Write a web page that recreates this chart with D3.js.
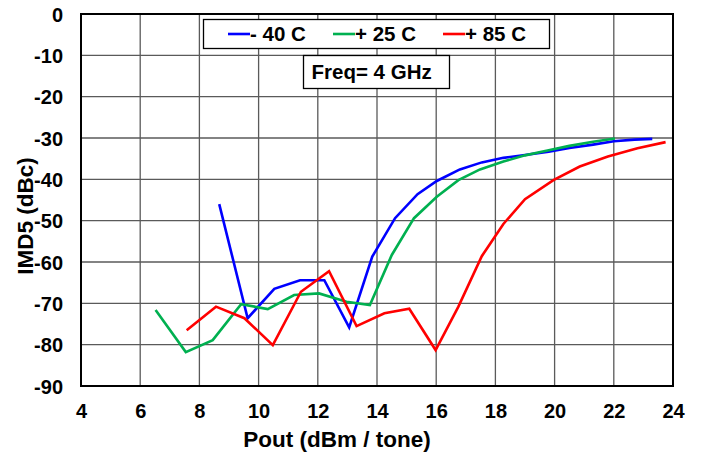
<!DOCTYPE html>
<html>
<head>
<meta charset="utf-8">
<script src="https://cdn.jsdelivr.net/npm/d3@7"></script>
<style>
  html, body { margin: 0; padding: 0; background: #fff; }
  svg text { font-family: "Liberation Sans", Arial, sans-serif; font-weight: bold; fill: #000; }
</style>
</head>
<body>
<svg id="chart" width="701" height="456"></svg>
<script>
// IMD5 vs output power per tone, three temperatures
const xTicks = [4, 6, 8, 10, 12, 14, 16, 18, 20, 22, 24];
const yTicks = [0, -10, -20, -30, -40, -50, -60, -70, -80, -90];

const coldPout = [8.67, 9.63, 10.53, 11.40, 12.22, 13.06, 13.84, 14.61, 15.37, 16.02, 16.80, 17.54, 18.27, 19.0, 19.8, 20.5, 21.3, 22.0, 22.7, 23.3];
const coldImd5 = [-46.0, -73.6, -66.5, -64.4, -64.4, -75.8, -58.7, -49.4, -43.6, -40.4, -37.6, -35.9, -34.8, -34.1, -33.3, -32.4, -31.6, -30.8, -30.4, -30.2];

const roomPout = [6.52, 7.54, 8.45, 9.41, 10.31, 11.2, 12.04, 12.97, 13.76, 14.5, 15.25, 16.02, 16.75, 17.48, 18.27, 19.0, 19.76, 20.5, 21.3, 22.04];
const roomImd5 = [-71.6, -81.8, -78.9, -70.2, -71.4, -68.0, -67.6, -69.6, -70.4, -58.3, -49.4, -44.2, -40.2, -37.6, -35.7, -34.2, -33.0, -31.9, -30.9, -30.1];

const hotPout = [7.57, 8.56, 9.52, 10.48, 11.43, 12.38, 13.31, 14.25, 15.09, 15.98, 16.75, 17.54, 18.27, 19.0, 19.96, 20.85, 21.8, 22.8, 23.75];
const hotImd5 = [-76.5, -70.8, -73.6, -80.1, -67.2, -62.2, -75.5, -72.4, -71.3, -81.3, -70.8, -58.6, -50.8, -44.8, -40.2, -36.9, -34.5, -32.5, -31.0];

const seriesNames = ["- 40 C", "+ 25 C", "+ 85 C"];
const seriesColors = ["#0000ff", "#00b050", "#ff0000"];

const series = [
  { name: seriesNames[0], color: seriesColors[0], x: coldPout, y: coldImd5 },
  { name: seriesNames[1], color: seriesColors[1], x: roomPout, y: roomImd5 },
  { name: seriesNames[2], color: seriesColors[2], x: hotPout, y: hotImd5 }
];

const svg = d3.select("#chart");
const plot = { left: 81, right: 673, top: 14, bottom: 386 };
const FONT = '"Liberation Sans", Arial, sans-serif';

const x = d3.scaleLinear().domain([4, 24]).range([plot.left, plot.right]);
const y = d3.scaleLinear().domain([-90, 0]).range([plot.bottom, plot.top]);

svg.append("rect").attr("width", 701).attr("height", 456).attr("fill", "#fff");

// grid
const grid = svg.append("g").attr("stroke", "#5a5a5a").attr("stroke-width", 1.3);
grid.selectAll("line.v").data(xTicks.slice(1, -1)).join("line")
  .attr("x1", d => x(d)).attr("x2", d => x(d))
  .attr("y1", plot.top).attr("y2", plot.bottom);
grid.selectAll("line.h").data(yTicks.slice(1, -1)).join("line")
  .attr("x1", plot.left).attr("x2", plot.right)
  .attr("y1", d => y(d)).attr("y2", d => y(d));

// axes (labels only, no tick marks); plain hyphen for negatives
const plain = d => String(d);
const xAxis = d3.axisBottom(x).tickValues(xTicks).tickSize(0).tickPadding(0).tickFormat(plain);
const gx = svg.append("g").attr("transform", `translate(0,${plot.bottom})`).call(xAxis);
gx.select(".domain").remove();
gx.selectAll("text").attr("dy", null).attr("y", 32).style("font-size", "20px")
  .style("font-family", FONT).style("font-weight", "bold").attr("fill", "#000");

const yAxis = d3.axisLeft(y).tickValues(yTicks).tickSize(0).tickPadding(0).tickFormat(plain);
const gy = svg.append("g").attr("transform", `translate(${plot.left},0)`).call(yAxis);
gy.select(".domain").remove();
gy.selectAll("text").attr("x", -18).attr("dy", "0.35em").style("font-size", "20px")
  .style("font-family", FONT).style("font-weight", "bold").attr("fill", "#000");

// series
const line = d3.line().x(d => x(d[0])).y(d => y(d[1]));
svg.append("g").selectAll("path").data(series).join("path")
  .attr("d", s => line(d3.zip(s.x, s.y)))
  .attr("fill", "none")
  .attr("stroke", s => s.color)
  .attr("stroke-width", 2.6)
  .attr("stroke-linejoin", "miter");

// frame
svg.append("rect")
  .attr("x", plot.left).attr("y", plot.top)
  .attr("width", plot.right - plot.left).attr("height", plot.bottom - plot.top)
  .attr("fill", "none").attr("stroke", "#000").attr("stroke-width", 2);

// axis titles
svg.append("text").attr("x", 337).attr("y", 447).attr("text-anchor", "middle")
  .style("font-size", "22.5px").text("Pout (dBm / tone)");
svg.append("text").attr("transform", "translate(33,216) rotate(-90)").attr("text-anchor", "middle")
  .style("font-size", "22.5px").text("IMD5 (dBc)");

// legend
const legend = svg.append("g");
legend.append("rect").attr("x", 203.5).attr("y", 19.5).attr("width", 346).attr("height", 29)
  .attr("fill", "#fff").attr("stroke", "#000").attr("stroke-width", 1.3);
const legendX = [228, 333, 443];
series.forEach((s, i) => {
  legend.append("line").attr("x1", legendX[i]).attr("x2", legendX[i] + 22)
    .attr("y1", 34).attr("y2", 34).attr("stroke", s.color).attr("stroke-width", 2.6);
  legend.append("text").attr("x", legendX[i] + 22).attr("y", 41)
    .style("font-size", "20.5px").text(s.name);
});

// frequency note
svg.append("rect").attr("x", 303.5).attr("y", 55.5).attr("width", 146).attr("height", 33)
  .attr("fill", "#fff").attr("stroke", "#000").attr("stroke-width", 1.3);
svg.append("text").attr("x", 311.5).attr("y", 78.5).style("font-size", "20.5px").text("Freq= 4 GHz");
</script>
</body>
</html>
